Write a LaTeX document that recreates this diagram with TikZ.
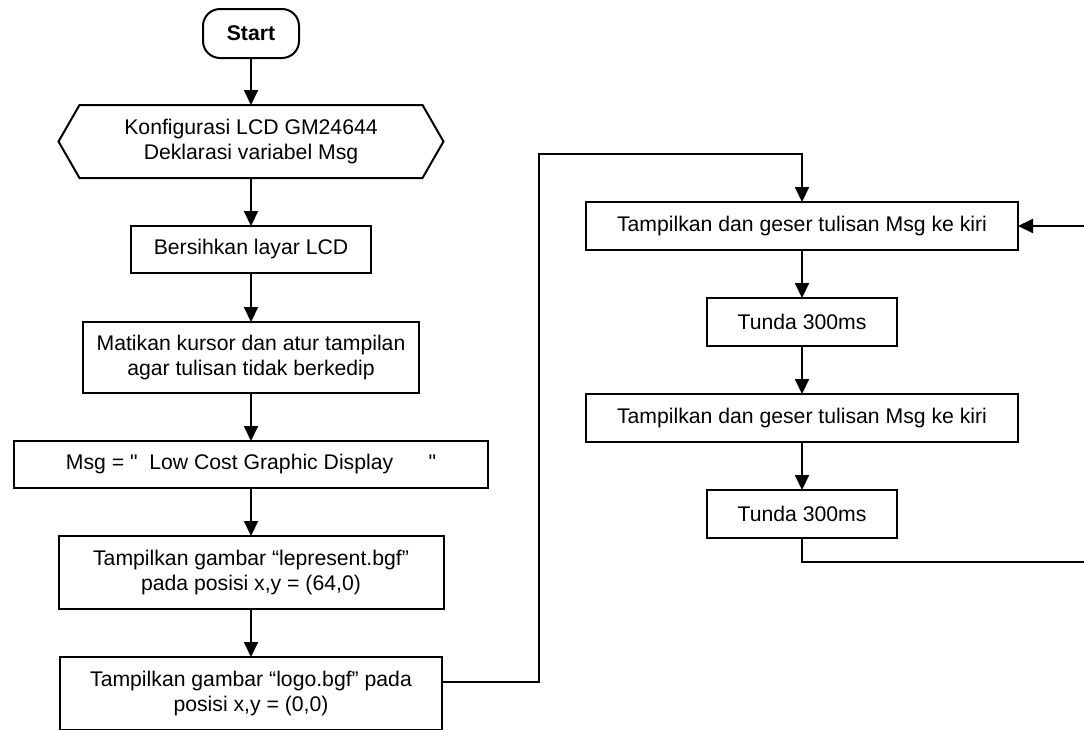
\documentclass[tikz,border=0pt]{standalone}
\usepackage{fontspec}
\setmainfont{Liberation Sans}[Ligatures=TeXOff]
\usepackage{tikz}
\usetikzlibrary{calc, positioning, arrows.meta}
\tikzset{
    boxnode/.style = {draw, rectangle, line width=2pt, inner sep=0pt, outer sep=0pt, 
      font=\fontsize{21.2}{24.5}\selectfont},
    startnode/.style = {boxnode, rounded corners=17pt, font=\fontsize{21.2}{24.5}\selectfont\bfseries},
    prepnode/.style = {boxnode, draw=none},
    connect/.style = {black, line width=2pt, -{Triangle[length=15pt, width=14pt]}},
    every text node part/.style={align=center}
}

\begin{document}
\begin{tikzpicture}[x=1pt, y=-1pt]
\useasboundingbox (0,0) rectangle (1084,729);
\clip (0,0) rectangle (1084,729);

\node [startnode, name = start, minimum width=96pt, minimum height=49pt] at (251,33.5) {Start};
\node [prepnode, name = config, minimum width=385pt, minimum height=73pt, below = 47pt of start] 
    {Konfigurasi LCD GM24644\\Deklarasi variabel Msg};
\draw [line width=2pt] ($(config.north west)+(21,0)$) -- ($(config.north east)+(-21,0)$) -- (config.east) 
    -- ($(config.south east)+(-21,0)$) -- ($(config.south west)+(21,0)$) -- (config.west) -- cycle;
\node [boxnode, name = clear, minimum width=240pt, minimum height=47pt, below = 48pt of config] 
    {Bersihkan layar LCD};
\node [boxnode, name = cursor, minimum width=336pt, minimum height=71pt, below = 49pt of clear] 
    {Matikan kursor dan atur tampilan\\agar tulisan tidak berkedip};
\node [boxnode, name = msg, minimum width=474pt, minimum height=47pt, below = 48pt of cursor] 
    {Msg = "\ \ Low Cost Graphic Display\ \ \ \ \ \ "};
\node [boxnode, name = present, minimum width=385pt, minimum height=73pt, below = 48pt of msg] 
    {Tampilkan gambar “lepresent.bgf”\\pada posisi x,y = (64,0)};
\node [boxnode, name = logo, minimum width=382pt, minimum height=73pt, below = 48pt of present] 
    {Tampilkan gambar “logo.bgf” pada\\posisi x,y = (0,0)};

\node [boxnode, name = show1, minimum width=432pt, minimum height=48pt] at (802,226) 
    {Tampilkan dan geser tulisan Msg ke kiri};
\node [boxnode, name = delay1, minimum width=190pt, minimum height=48pt, below = 48pt of show1] 
    {Tunda 300ms};
\node [boxnode, name = show2, minimum width=432pt, minimum height=48pt, below = 48pt of delay1] 
    {Tampilkan dan geser tulisan Msg ke kiri};
\node [boxnode, name = delay2, minimum width=190pt, minimum height=48pt, below = 48pt of show2] 
    {Tunda 300ms};

\coordinate (jointop) at (539,154);
\coordinate (loopright) at (1100,562);

\draw [connect] (start) -- (config);
\draw [connect] (config) -- (clear);
\draw [connect] (clear) -- (cursor);
\draw [connect] (cursor) -- (msg);
\draw [connect] (msg) -- (present);
\draw [connect] (present) -- (logo);
\draw [connect] ([yshift=11.5pt]logo.east) -| (jointop) -| (show1.north);
\draw [connect] (show1) -- (delay1);
\draw [connect] (delay1) -- (show2);
\draw [connect] (show2) -- (delay2);
\draw [connect] (delay2.south) |- (loopright) |- (show1.east);

\end{tikzpicture}
\end{document}
